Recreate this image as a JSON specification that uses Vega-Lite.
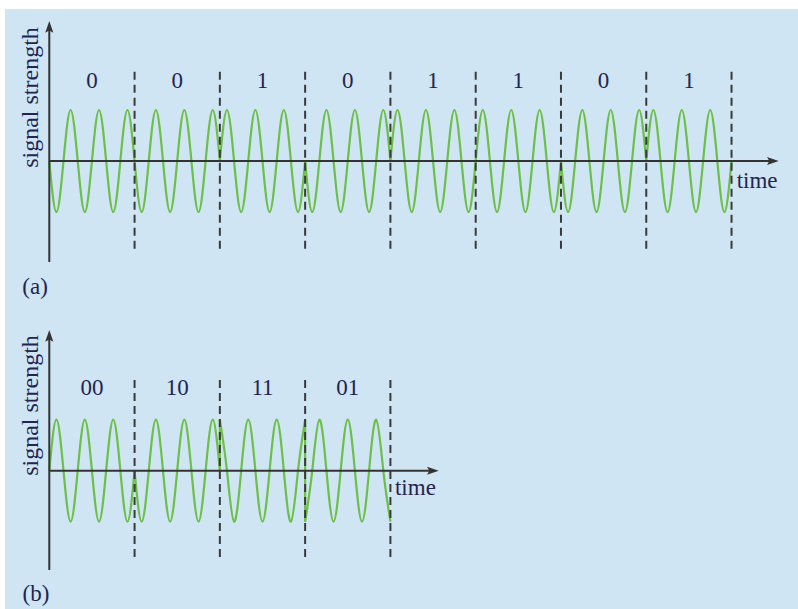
{
"$schema":"https://vega.github.io/schema/vega-lite/v6.json",
"background":"#ffffff",
"padding":{"left":5,"top":9,"right":0,"bottom":0},
"autosize":{"type":"pad"},
"spacing":0,
"bounds":"flush",
"config":{"view":{"fill":"#cfe5f4","stroke":null}},
"datasets":{
"waveA":[
{"s":1,"t":0,"v":0},{"s":1,"t":0.25,"v":-1},{"s":1,"t":0.5,"v":0},{"s":1,"t":0.75,"v":1},{"s":1,"t":1,"v":0},{"s":1,"t":1.25,"v":-1},{"s":1,"t":1.5,"v":0},{"s":1,"t":1.75,"v":1},{"s":1,"t":2,"v":0},{"s":1,"t":2.25,"v":-1},{"s":1,"t":2.5,"v":0},{"s":1,"t":2.75,"v":1},{"s":1,"t":3,"v":0},
{"s":2,"t":3,"v":0},{"s":2,"t":3.25,"v":-1},{"s":2,"t":3.5,"v":0},{"s":2,"t":3.75,"v":1},{"s":2,"t":4,"v":0},{"s":2,"t":4.25,"v":-1},{"s":2,"t":4.5,"v":0},{"s":2,"t":4.75,"v":1},{"s":2,"t":5,"v":0},{"s":2,"t":5.25,"v":-1},{"s":2,"t":5.5,"v":0},{"s":2,"t":5.75,"v":1},{"s":2,"t":6,"v":0},
{"s":3,"t":6,"v":0},{"s":3,"t":6.25,"v":1},{"s":3,"t":6.5,"v":0},{"s":3,"t":6.75,"v":-1},{"s":3,"t":7,"v":0},{"s":3,"t":7.25,"v":1},{"s":3,"t":7.5,"v":0},{"s":3,"t":7.75,"v":-1},{"s":3,"t":8,"v":0},{"s":3,"t":8.25,"v":1},{"s":3,"t":8.5,"v":0},{"s":3,"t":8.75,"v":-1},{"s":3,"t":9,"v":0},
{"s":4,"t":9,"v":0},{"s":4,"t":9.25,"v":-1},{"s":4,"t":9.5,"v":0},{"s":4,"t":9.75,"v":1},{"s":4,"t":10,"v":0},{"s":4,"t":10.25,"v":-1},{"s":4,"t":10.5,"v":0},{"s":4,"t":10.75,"v":1},{"s":4,"t":11,"v":0},{"s":4,"t":11.25,"v":-1},{"s":4,"t":11.5,"v":0},{"s":4,"t":11.75,"v":1},{"s":4,"t":12,"v":0},
{"s":5,"t":12,"v":0},{"s":5,"t":12.25,"v":1},{"s":5,"t":12.5,"v":0},{"s":5,"t":12.75,"v":-1},{"s":5,"t":13,"v":0},{"s":5,"t":13.25,"v":1},{"s":5,"t":13.5,"v":0},{"s":5,"t":13.75,"v":-1},{"s":5,"t":14,"v":0},{"s":5,"t":14.25,"v":1},{"s":5,"t":14.5,"v":0},{"s":5,"t":14.75,"v":-1},{"s":5,"t":15,"v":0},
{"s":6,"t":15,"v":0},{"s":6,"t":15.25,"v":1},{"s":6,"t":15.5,"v":0},{"s":6,"t":15.75,"v":-1},{"s":6,"t":16,"v":0},{"s":6,"t":16.25,"v":1},{"s":6,"t":16.5,"v":0},{"s":6,"t":16.75,"v":-1},{"s":6,"t":17,"v":0},{"s":6,"t":17.25,"v":1},{"s":6,"t":17.5,"v":0},{"s":6,"t":17.75,"v":-1},{"s":6,"t":18,"v":0},
{"s":7,"t":18,"v":0},{"s":7,"t":18.25,"v":-1},{"s":7,"t":18.5,"v":0},{"s":7,"t":18.75,"v":1},{"s":7,"t":19,"v":0},{"s":7,"t":19.25,"v":-1},{"s":7,"t":19.5,"v":0},{"s":7,"t":19.75,"v":1},{"s":7,"t":20,"v":0},{"s":7,"t":20.25,"v":-1},{"s":7,"t":20.5,"v":0},{"s":7,"t":20.75,"v":1},{"s":7,"t":21,"v":0},
{"s":8,"t":21,"v":0},{"s":8,"t":21.25,"v":1},{"s":8,"t":21.5,"v":0},{"s":8,"t":21.75,"v":-1},{"s":8,"t":22,"v":0},{"s":8,"t":22.25,"v":1},{"s":8,"t":22.5,"v":0},{"s":8,"t":22.75,"v":-1},{"s":8,"t":23,"v":0},{"s":8,"t":23.25,"v":1},{"s":8,"t":23.5,"v":0},{"s":8,"t":23.75,"v":-1},{"s":8,"t":24,"v":0}
],
"waveB":[
{"s":1,"t":0,"v":0},{"s":1,"t":0.25,"v":1},{"s":1,"t":0.5,"v":0},{"s":1,"t":0.75,"v":-1},{"s":1,"t":1,"v":0},{"s":1,"t":1.25,"v":1},{"s":1,"t":1.5,"v":0},{"s":1,"t":1.75,"v":-1},{"s":1,"t":2,"v":0},{"s":1,"t":2.25,"v":1},{"s":1,"t":2.5,"v":0},{"s":1,"t":2.75,"v":-1},{"s":1,"t":3,"v":0},
{"s":2,"t":3,"v":0},{"s":2,"t":3.25,"v":-1},{"s":2,"t":3.5,"v":0},{"s":2,"t":3.75,"v":1},{"s":2,"t":4,"v":0},{"s":2,"t":4.25,"v":-1},{"s":2,"t":4.5,"v":0},{"s":2,"t":4.75,"v":1},{"s":2,"t":5,"v":0},{"s":2,"t":5.25,"v":-1},{"s":2,"t":5.5,"v":0},{"s":2,"t":5.75,"v":1},{"s":2,"t":6,"v":0},
{"s":3,"t":6,"v":1},{"s":3,"t":6.25,"v":0},{"s":3,"t":6.5,"v":-1},{"s":3,"t":6.75,"v":0},{"s":3,"t":7,"v":1},{"s":3,"t":7.25,"v":0},{"s":3,"t":7.5,"v":-1},{"s":3,"t":7.75,"v":0},{"s":3,"t":8,"v":1},{"s":3,"t":8.25,"v":0},{"s":3,"t":8.5,"v":-1},{"s":3,"t":8.75,"v":0},{"s":3,"t":9,"v":1},
{"s":4,"t":9,"v":-1},{"s":4,"t":9.25,"v":0},{"s":4,"t":9.5,"v":1},{"s":4,"t":9.75,"v":0},{"s":4,"t":10,"v":-1},{"s":4,"t":10.25,"v":0},{"s":4,"t":10.5,"v":1},{"s":4,"t":10.75,"v":0},{"s":4,"t":11,"v":-1},{"s":4,"t":11.25,"v":0},{"s":4,"t":11.5,"v":1},{"s":4,"t":11.75,"v":0},{"s":4,"t":12,"v":-1}
],
"jumpsB":[{"t":6,"v":0,"v2":1},{"t":9,"v":1,"v2":-1}],
"bitsA":[{"c":1.5,"e":3,"label":"0"},{"c":4.5,"e":6,"label":"0"},{"c":7.5,"e":9,"label":"1"},{"c":10.5,"e":12,"label":"0"},{"c":13.5,"e":15,"label":"1"},{"c":16.5,"e":18,"label":"1"},{"c":19.5,"e":21,"label":"0"},{"c":22.5,"e":24,"label":"1"}],
"bitsB":[{"c":1.5,"e":3,"label":"00"},{"c":4.5,"e":6,"label":"10"},{"c":7.5,"e":9,"label":"11"},{"c":10.5,"e":12,"label":"01"}]
},
"vconcat":[
{"width":793,"height":291,
"layer":[
{"data":{"name":"waveA"},"mark":{"type":"line","interpolate":"natural","color":"#6cbf47","strokeWidth":2.2},
"encoding":{"x":{"field":"t","type":"quantitative","scale":{"domain":[-1.558,26.338],"nice":false,"zero":false},"axis":null},"y":{"field":"v","type":"quantitative","scale":{"domain":[-2.726,2.98],"nice":false,"zero":false},"axis":null},"detail":{"field":"s","type":"nominal"}}},
{"data":{"name":"bitsA"},"mark":{"type":"rule","color":"#3a3a3a","strokeWidth":2,"strokeDash":[8,5]},
"encoding":{"x":{"field":"e","type":"quantitative","scale":{"domain":[-1.558,26.338],"nice":false,"zero":false},"axis":null},"y":{"datum":1.751,"type":"quantitative","scale":{"domain":[-2.726,2.98],"nice":false,"zero":false},"axis":null},"y2":{"datum":-1.731}}},
{"data":{"values":[{}]},"mark":{"type":"rule","color":"#333333","strokeWidth":2},
"encoding":{"x":{"datum":0,"type":"quantitative","scale":{"domain":[-1.558,26.338],"nice":false,"zero":false},"axis":null},"y":{"datum":-1.98,"type":"quantitative","scale":{"domain":[-2.726,2.98],"nice":false,"zero":false},"axis":null},"y2":{"datum":2.6}}},
{"data":{"values":[{}]},"mark":{"type":"rule","color":"#333333","strokeWidth":2},
"encoding":{"x":{"datum":0,"type":"quantitative","scale":{"domain":[-1.558,26.338],"nice":false,"zero":false},"axis":null},"x2":{"datum":25.45},"y":{"datum":0,"type":"quantitative","scale":{"domain":[-2.726,2.98],"nice":false,"zero":false},"axis":null}}},
{"data":{"values":[{}]},"mark":{"type":"point","shape":"M0,0L0.9,2.6L0,2.1L-0.9,2.6Z","size":81,"filled":true,"color":"#333333","opacity":1},
"encoding":{"x":{"datum":0,"type":"quantitative","scale":{"domain":[-1.558,26.338],"nice":false,"zero":false},"axis":null},"y":{"datum":2.745,"type":"quantitative","scale":{"domain":[-2.726,2.98],"nice":false,"zero":false},"axis":null}}},
{"data":{"values":[{}]},"mark":{"type":"point","shape":"M0,0L0.9,2.6L0,2.1L-0.9,2.6Z","size":81,"filled":true,"color":"#333333","opacity":1,"angle":90},
"encoding":{"x":{"datum":25.66,"type":"quantitative","scale":{"domain":[-1.558,26.338],"nice":false,"zero":false},"axis":null},"y":{"datum":0,"type":"quantitative","scale":{"domain":[-2.726,2.98],"nice":false,"zero":false},"axis":null}}},
{"data":{"name":"bitsA"},"mark":{"type":"text","font":"Times New Roman, Liberation Serif, serif","fontSize":23,"fill":"#24244f","align":"center","baseline":"alphabetic"},
"encoding":{"x":{"field":"c","type":"quantitative","scale":{"domain":[-1.558,26.338],"nice":false,"zero":false},"axis":null},"y":{"datum":1.425,"type":"quantitative","scale":{"domain":[-2.726,2.98],"nice":false,"zero":false},"axis":null},"text":{"field":"label"}}},
{"data":{"values":[{"txt":"time"}]},"mark":{"type":"text","font":"Times New Roman, Liberation Serif, serif","fontSize":23,"fill":"#24244f","align":"left","baseline":"alphabetic"},
"encoding":{"x":{"datum":24.18,"type":"quantitative","scale":{"domain":[-1.558,26.338],"nice":false,"zero":false},"axis":null},"y":{"datum":-0.53,"type":"quantitative","scale":{"domain":[-2.726,2.98],"nice":false,"zero":false},"axis":null},"text":{"field":"txt"}}},
{"data":{"values":[{"txt":"(a)"}]},"mark":{"type":"text","font":"Times New Roman, Liberation Serif, serif","fontSize":23,"fill":"#24244f","align":"center","baseline":"middle"},
"encoding":{"x":{"datum":-0.5,"type":"quantitative","scale":{"domain":[-1.558,26.338],"nice":false,"zero":false},"axis":null},"y":{"datum":-2.48,"type":"quantitative","scale":{"domain":[-2.726,2.98],"nice":false,"zero":false},"axis":null},"text":{"field":"txt"}}},
{"data":{"values":[{"txt":"signal strength"}]},"mark":{"type":"text","font":"Times New Roman, Liberation Serif, serif","fontSize":24,"fill":"#24244f","align":"center","baseline":"alphabetic","angle":270},
"encoding":{"x":{"datum":-0.394,"type":"quantitative","scale":{"domain":[-1.558,26.338],"nice":false,"zero":false},"axis":null},"y":{"datum":1.245,"type":"quantitative","scale":{"domain":[-2.726,2.98],"nice":false,"zero":false},"axis":null},"text":{"field":"txt"}}}
]},
{"width":793,"height":309,
"layer":[
{"data":{"name":"waveB"},"mark":{"type":"line","interpolate":"natural","color":"#6cbf47","strokeWidth":2.2},
"encoding":{"x":{"field":"t","type":"quantitative","scale":{"domain":[-1.558,26.338],"nice":false,"zero":false},"axis":null},"y":{"field":"v","type":"quantitative","scale":{"domain":[-2.712,3.347],"nice":false,"zero":false},"axis":null},"detail":{"field":"s","type":"nominal"}}},
{"data":{"name":"jumpsB"},"mark":{"type":"rule","color":"#6cbf47","strokeWidth":2.2},
"encoding":{"x":{"field":"t","type":"quantitative","scale":{"domain":[-1.558,26.338],"nice":false,"zero":false},"axis":null},"y":{"field":"v","type":"quantitative","scale":{"domain":[-2.712,3.347],"nice":false,"zero":false},"axis":null},"y2":{"field":"v2"}}},
{"data":{"name":"bitsB"},"mark":{"type":"rule","color":"#3a3a3a","strokeWidth":2,"strokeDash":[8,5]},
"encoding":{"x":{"field":"e","type":"quantitative","scale":{"domain":[-1.558,26.338],"nice":false,"zero":false},"axis":null},"y":{"datum":1.778,"type":"quantitative","scale":{"domain":[-2.712,3.347],"nice":false,"zero":false},"axis":null},"y2":{"datum":-1.737}}},
{"data":{"values":[{}]},"mark":{"type":"rule","color":"#333333","strokeWidth":2},
"encoding":{"x":{"datum":0,"type":"quantitative","scale":{"domain":[-1.558,26.338],"nice":false,"zero":false},"axis":null},"y":{"datum":-1.947,"type":"quantitative","scale":{"domain":[-2.712,3.347],"nice":false,"zero":false},"axis":null},"y2":{"datum":2.62}}},
{"data":{"values":[{}]},"mark":{"type":"rule","color":"#333333","strokeWidth":2},
"encoding":{"x":{"datum":0,"type":"quantitative","scale":{"domain":[-1.558,26.338],"nice":false,"zero":false},"axis":null},"x2":{"datum":13.5},"y":{"datum":0,"type":"quantitative","scale":{"domain":[-2.712,3.347],"nice":false,"zero":false},"axis":null}}},
{"data":{"values":[{}]},"mark":{"type":"point","shape":"M0,0L0.9,2.6L0,2.1L-0.9,2.6Z","size":81,"filled":true,"color":"#333333","opacity":1},
"encoding":{"x":{"datum":0,"type":"quantitative","scale":{"domain":[-1.558,26.338],"nice":false,"zero":false},"axis":null},"y":{"datum":2.76,"type":"quantitative","scale":{"domain":[-2.712,3.347],"nice":false,"zero":false},"axis":null}}},
{"data":{"values":[{}]},"mark":{"type":"point","shape":"M0,0L0.9,2.6L0,2.1L-0.9,2.6Z","size":81,"filled":true,"color":"#333333","opacity":1,"angle":90},
"encoding":{"x":{"datum":13.7,"type":"quantitative","scale":{"domain":[-1.558,26.338],"nice":false,"zero":false},"axis":null},"y":{"datum":0,"type":"quantitative","scale":{"domain":[-2.712,3.347],"nice":false,"zero":false},"axis":null}}},
{"data":{"name":"bitsB"},"mark":{"type":"text","font":"Times New Roman, Liberation Serif, serif","fontSize":23,"fill":"#24244f","align":"center","baseline":"alphabetic"},
"encoding":{"x":{"field":"c","type":"quantitative","scale":{"domain":[-1.558,26.338],"nice":false,"zero":false},"axis":null},"y":{"datum":1.484,"type":"quantitative","scale":{"domain":[-2.712,3.347],"nice":false,"zero":false},"axis":null},"text":{"field":"label"}}},
{"data":{"values":[{"txt":"time"}]},"mark":{"type":"text","font":"Times New Roman, Liberation Serif, serif","fontSize":23,"fill":"#24244f","align":"left","baseline":"alphabetic"},
"encoding":{"x":{"datum":12.16,"type":"quantitative","scale":{"domain":[-1.558,26.338],"nice":false,"zero":false},"axis":null},"y":{"datum":-0.476,"type":"quantitative","scale":{"domain":[-2.712,3.347],"nice":false,"zero":false},"axis":null},"text":{"field":"txt"}}},
{"data":{"values":[{"txt":"(b)"}]},"mark":{"type":"text","font":"Times New Roman, Liberation Serif, serif","fontSize":23,"fill":"#24244f","align":"center","baseline":"middle"},
"encoding":{"x":{"datum":-0.47,"type":"quantitative","scale":{"domain":[-1.558,26.338],"nice":false,"zero":false},"axis":null},"y":{"datum":-2.42,"type":"quantitative","scale":{"domain":[-2.712,3.347],"nice":false,"zero":false},"axis":null},"text":{"field":"txt"}}},
{"data":{"values":[{"txt":"signal strength"}]},"mark":{"type":"text","font":"Times New Roman, Liberation Serif, serif","fontSize":24,"fill":"#24244f","align":"center","baseline":"alphabetic","angle":270},
"encoding":{"x":{"datum":-0.394,"type":"quantitative","scale":{"domain":[-1.558,26.338],"nice":false,"zero":false},"axis":null},"y":{"datum":1.278,"type":"quantitative","scale":{"domain":[-2.712,3.347],"nice":false,"zero":false},"axis":null},"text":{"field":"txt"}}}
]}
]
}
